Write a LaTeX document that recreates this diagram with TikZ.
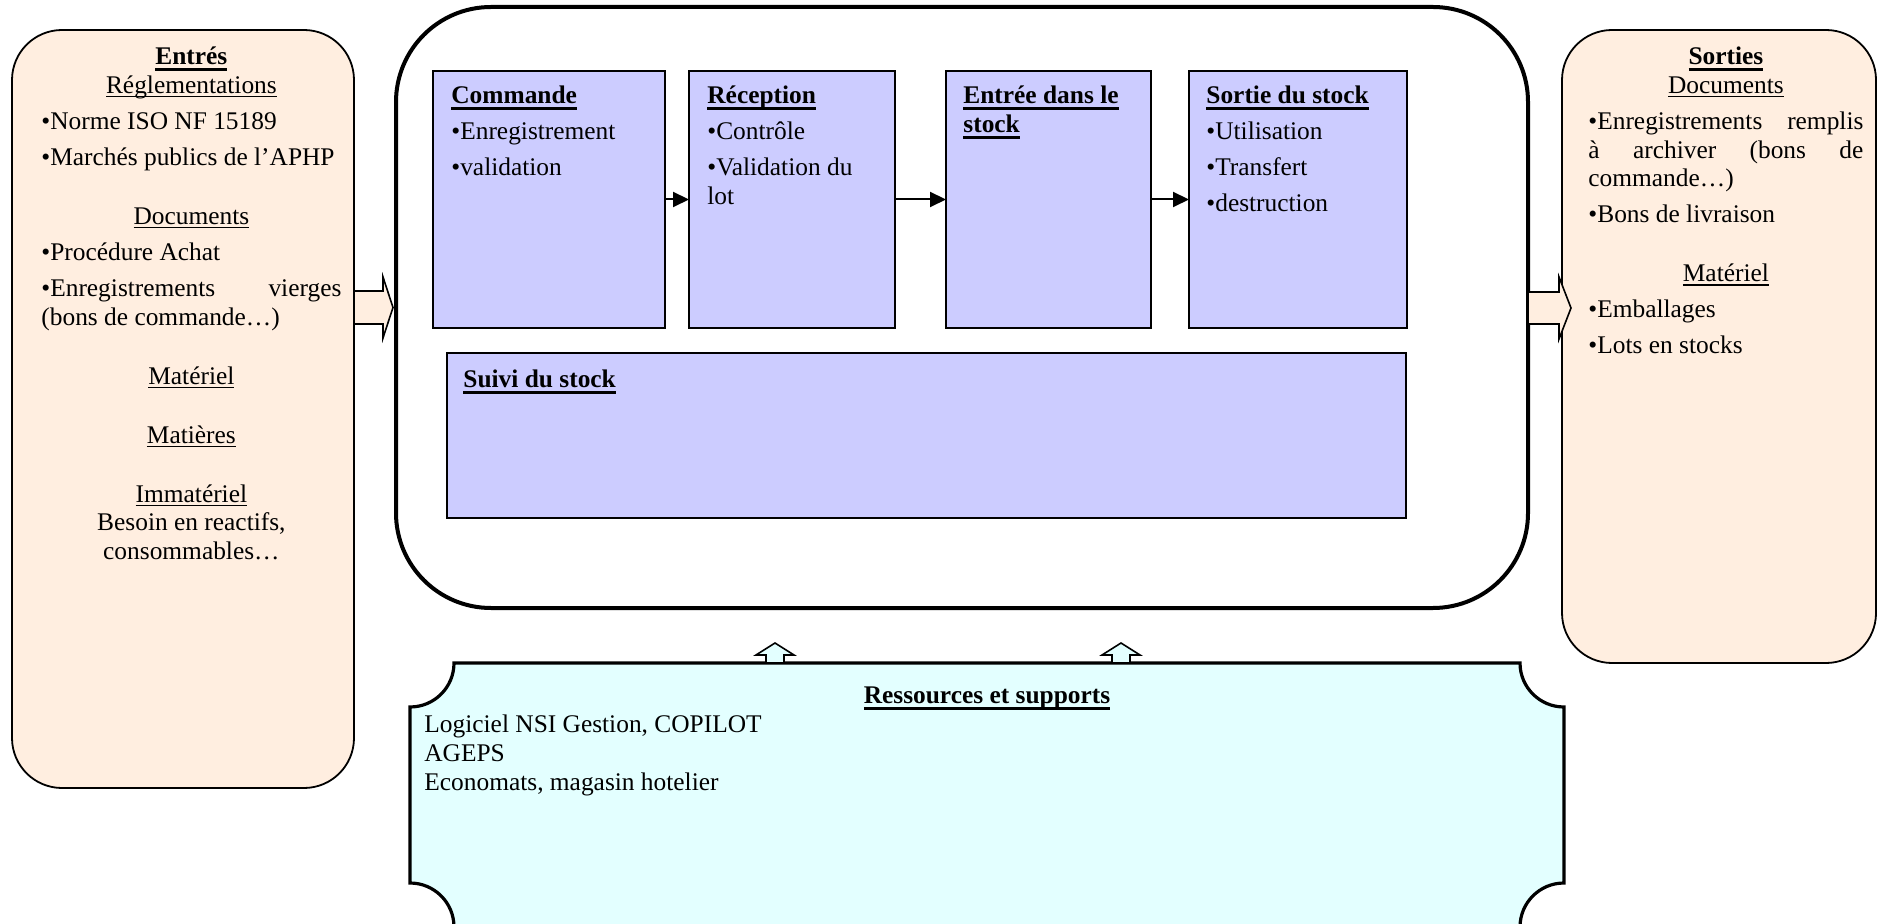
\documentclass[tikz,border=0pt]{standalone}
\usepackage{fontspec}
\setmainfont{Liberation Serif}
\usetikzlibrary{arrows.meta,positioning,calc}

\definecolor{peach}{RGB}{255,238,224}
\definecolor{lavender}{RGB}{204,204,255}
\definecolor{aqua}{RGB}{227,255,255}

\newcommand{\bodyfont}{\fontsize{12.7}{14.4}\selectfont\setlength{\parskip}{3.6pt}}
\newcommand{\blockgap}{\vspace{11.5pt}}
\newcommand{\uln}[1]{\leavevmode\setbox0\hbox{#1}\rlap{\rule[-1.9pt]{\wd0}{0.7pt}}\box0}
\newcommand{\ulbf}[1]{\leavevmode\setbox0\hbox{\bfseries #1}\rlap{\rule[-3.1pt]{\wd0}{1.4pt}}\box0}

\begin{document}
\begin{tikzpicture}[
    x=0.5pt, y=-0.5pt,
    font=\bodyfont,
    side/.style={draw, fill=peach, rounded corners=25pt, line width=0.9pt, outer sep=0pt},
    mainbox/.style={draw, line width=2pt, rounded corners=47.5pt, outer sep=0pt},
    stepbox/.style={draw, fill=lavender, line width=0.9pt, minimum height=128.5pt, outer sep=0pt, inner sep=0pt},
    txt/.style={inner sep=0pt, align=left},
    para/.style={inner sep=0pt, align=justify},
    arr/.style={-{Triangle[length=8pt,width=7.5pt]}, line width=1pt},
    bigarrow/.style={draw, fill=peach, line width=0.8pt},
    uparrow/.style={draw, fill=aqua, line width=0.8pt},
    resshape/.style={draw, fill=aqua, line width=1.6pt}
  ]
    \useasboundingbox (0,0) rectangle (1878,924);
    \clip (0,0) rectangle (1878,924);

    \node[side, minimum width=171pt, minimum height=379pt] (entrees) at (183,409) {};
    \node[para, text width=150pt, below right=7pt and 14.5pt of entrees.north west] (entreesTxt) {%
      {\centering\strut\ulbf{Entrés}\\\uln{Réglementations}\par}
      \textbullet Norme ISO NF 15189\par
      \textbullet Marchés publics de l’APHP\par
      \blockgap
      {\centering\uln{Documents}\par}
      \textbullet Procédure Achat\par
      \textbullet Enregistrements vierges\break (bons de commande…)\par
      \blockgap
      {\centering\uln{Matériel}\par}
      \blockgap
      {\centering\uln{Matières}\par}
      \blockgap
      {\centering\uln{Immatériel}\\Besoin en reactifs,\\consommables…\par}};

    \node[side, minimum width=157pt, minimum height=316.5pt] (sorties) at (1719,346.5) {};
    \node[para, text width=137.5pt, below right=7pt and 13pt of sorties.north west] (sortiesTxt) {%
      {\centering\strut\ulbf{Sorties}\\\uln{Documents}\par}
      \textbullet Enregistrements remplis\break à archiver (bons de\break commande…)\par
      \textbullet Bons de livraison\par
      \blockgap
      {\centering\uln{Matériel}\par}
      \textbullet Emballages\par
      \textbullet Lots en stocks\par};

    \node[mainbox, minimum width=566pt, minimum height=300.5pt] (proc) at (962,307.5) {};

    \node[stepbox, minimum width=116pt] (com) at (549,199.5) {};
    \node[stepbox, minimum width=103pt, right=12pt of com] (rec) {};
    \node[stepbox, minimum width=102.5pt, right=25.5pt of rec] (ent) {};
    \node[stepbox, minimum width=109pt, right=19pt of ent] (sor) {};
    \node[stepbox, minimum width=479.5pt, minimum height=82.5pt, below right=12.5pt and 7pt of com.south west] (suivi) {};

    \node[txt, below right=6pt and 9pt of com.north west] (comTxt) {\strut\ulbf{Commande}\\[3.6pt]\textbullet Enregistrement\\[3.6pt]\textbullet validation};
    \node[txt, below right=6pt and 9pt of rec.north west] (recTxt) {\strut\ulbf{Réception}\\[3.6pt]\textbullet Contrôle\\[3.6pt]\textbullet Validation du\\lot};
    \node[txt, below right=6pt and 8.5pt of ent.north west] (entTxt) {\strut\ulbf{Entrée dans le}\\\ulbf{stock}};
    \node[txt, below right=6pt and 8.5pt of sor.north west] (sorTxt) {\strut\ulbf{Sortie du stock}\\[3.6pt]\textbullet Utilisation\\[3.6pt]\textbullet Transfert\\[3.6pt]\textbullet destruction};
    \node[txt, below right=7pt and 8pt of suivi.north west] (suiviTxt) {\strut\ulbf{Suivi du stock}};

    \draw[arr] (com) -- (rec);
    \draw[arr] (rec) -- (ent);
    \draw[arr] (ent) -- (sor);

    \draw[bigarrow] (entrees.east |- proc.west) ++(0,-16.5) -- ++(29,0) -- ++(0,-14) -- ++(10,30.5)
      -- ++(-10,30.5) -- ++(0,-14) -- ++(-29,0) -- cycle;
    \draw[bigarrow] (proc.east) ++(0,-15.5) -- ++(31,0) -- ++(0,-15) -- ++(12,31)
      -- ++(-12,31) -- ++(0,-15) -- ++(-31,0) -- cycle;

    \draw[resshape] (454,663) -- (1520,663) arc[start angle=180, end angle=90, radius=44]
      -- (1564,883) arc[start angle=270, end angle=180, radius=44]
      -- (454,927) arc[start angle=0, end angle=-90, radius=44]
      -- (410,707) arc[start angle=90, end angle=0, radius=44] -- cycle;
    \coordinate (res) at (410,663);
    \node[txt, anchor=north] (resTitle) at (987,683) {\strut\ulbf{Ressources et supports}};
    \node[txt, below right=24.5pt and 7pt of res] (resTxt) {\strut Logiciel NSI Gestion, COPILOT\\AGEPS\\Economats, magasin hotelier};

    \foreach \ux in {775,1121}
      \draw[uparrow] (\ux,663) ++(-9,0) -- ++(0,-8) -- ++(-10,0) -- ++(19,-12) -- ++(19,12) -- ++(-10,0) -- ++(0,8) -- cycle;
  \end{tikzpicture}
\end{document}
